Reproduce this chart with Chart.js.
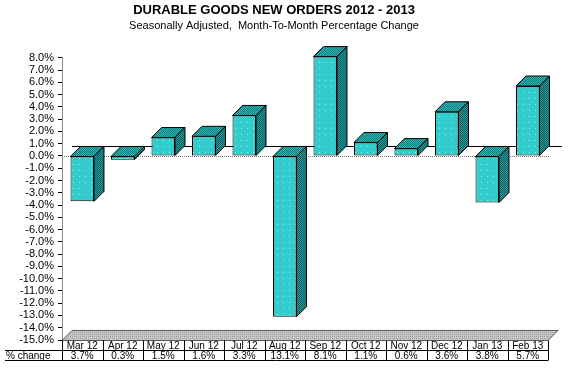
<!DOCTYPE html>
<html>
<head>
<meta charset="utf-8">
<title>Durable Goods New Orders 2012 - 2013</title>
<script src="https://cdn.jsdelivr.net/npm/chart.js@4.4.1/dist/chart.umd.min.js"></script>
<style>
  body { margin: 0; background: #fff; }
  canvas { display: block; }
</style>
</head>
<body>
<canvas id="chart" width="580" height="372"></canvas>
<script>
// Month-to-month % change, seasonally adjusted
const months = ['Mar 12', 'Apr 12', 'May 12', 'Jun 12', 'Jul 12', 'Aug 12', 'Sep 12', 'Oct 12', 'Nov 12', 'Dec 12', 'Jan 13', 'Feb 13'];
const changes = [-3.7, -0.3, 1.5, 1.6, 3.3, -13.1, 8.1, 1.1, 0.6, 3.6, -3.8, 5.7];
const rowLabel = '% change';
const yMin = -15;
const yMax = 8;

const FONT = 'Liberation Sans, Arial, sans-serif';
const DX = 10, DY = 10; // 3d depth offset

// small tiled fills to mimic the dithered look
function makePattern(w, h, base, dots) {
    const c = document.createElement('canvas');
    c.width = w; c.height = h;
    const g = c.getContext('2d');
    g.fillStyle = base;
    g.fillRect(0, 0, w, h);
    dots.forEach(d => {
        g.fillStyle = d[2];
        g.fillRect(d[0], d[1], 1, 1);
    });
    return g.createPattern(c, 'repeat');
}

const ctx = document.getElementById('chart').getContext('2d');
const frontFill = makePattern(6, 6, '#33cccc', [[1, 2, '#8ff0f0']]);
const topFill = makePattern(2, 2, '#33b3b3', [[0, 0, '#0a8080'], [1, 1, '#0a8080']]);
const sideFill = makePattern(2, 2, '#2a9999', [[0, 0, '#035f5f'], [1, 1, '#035f5f']]);
const floorFill = makePattern(2, 2, '#c8c8c8', [[0, 0, '#9a9a9a']]);

function poly(c, pts, fill) {
    c.beginPath();
    c.moveTo(pts[0][0], pts[0][1]);
    for (let i = 1; i < pts.length; i++) c.lineTo(pts[i][0], pts[i][1]);
    c.closePath();
    c.fillStyle = fill;
    c.fill();
    c.strokeStyle = '#000';
    c.lineWidth = 1;
    c.stroke();
}

function line(c, x1, y1, x2, y2) {
    c.beginPath();
    c.moveTo(x1, y1);
    c.lineTo(x2, y2);
    c.stroke();
}

const depthPlugin = {
    id: 'depth',
    beforeDatasetsDraw(chart) {
        const c = chart.ctx;
        const a = chart.chartArea;
        const y0 = Math.round(chart.scales.y.getPixelForValue(0)) + 0.5;
        const fb = Math.round(a.bottom) + 0.5;
        c.save();
        // floor
        c.beginPath();
        c.moveTo(a.left, fb);
        c.lineTo(a.right, fb);
        c.lineTo(a.right + DX, fb - DY);
        c.lineTo(a.left + DX, fb - DY);
        c.closePath();
        c.fillStyle = floorFill;
        c.fill();
        c.strokeStyle = '#555';
        c.lineWidth = 1;
        c.stroke();
        // zero line on back wall
        c.strokeStyle = '#000';
        line(c, a.left + DX, y0 - DY, a.right + DX + 4, y0 - DY);
        // zero line on front
        c.strokeStyle = '#777';
        c.setLineDash([1, 1]);
        line(c, a.left, y0, a.right + 2, y0);
        c.restore();
    },
    afterDatasetsDraw(chart) {
        const c = chart.ctx;
        const meta = chart.getDatasetMeta(0);
        c.save();
        meta.data.forEach(bar => {
            const p = bar.getProps(['x', 'y', 'base', 'width'], true);
            const L = p.x - p.width / 2, R = p.x + p.width / 2;
            const top = Math.min(p.y, p.base), bottom = Math.max(p.y, p.base);
            poly(c, [[L, top], [R, top], [R + DX, top - DY], [L + DX, top - DY]], topFill);
            poly(c, [[R, top], [R + DX, top - DY], [R + DX, bottom - DY], [R, bottom]], sideFill);
        });
        c.restore();
    }
};

// data table under the floor
const tablePlugin = {
    id: 'table',
    afterDraw(chart) {
        const c = chart.ctx;
        const a = chart.chartArea;
        const xs = chart.scales.x;
        const w = (a.right - a.left) / months.length;
        const r0 = Math.round(a.bottom) + 0.5;
        const r1 = r0 + 10, r2 = r0 + 20;
        c.save();
        c.strokeStyle = '#000';
        c.lineWidth = 1;
        line(c, 5, r1, a.right, r1);
        line(c, 5, r2, a.right, r2);
        for (let i = 0; i <= months.length; i++) {
            const xx = Math.round(a.left + i * w) + 0.5;
            line(c, xx, r0, xx, r2);
        }
        c.fillStyle = '#000';
        c.font = '10px ' + FONT;
        c.textBaseline = 'middle';
        c.textAlign = 'left';
        c.fillText(rowLabel, 6, r1 + 5.5);
        c.textAlign = 'center';
        months.forEach((m, i) => {
            const cx = xs.getPixelForValue(i);
            c.fillText(m, cx, r0 + 5.5);
            c.fillText(Math.abs(changes[i]).toFixed(1) + '%', cx, r1 + 5.5);
        });
        c.restore();
    }
};

new Chart(ctx, {
    type: 'bar',
    data: {
        labels: months,
        datasets: [{
            data: changes,
            backgroundColor: frontFill,
            borderColor: '#000',
            borderWidth: 1,
            borderSkipped: false,
            barPercentage: 0.58,
            categoryPercentage: 1,
            clip: false
        }]
    },
    options: {
        responsive: false,
        animation: false,
        layout: { padding: { left: 0, right: 32, top: 0, bottom: 32 } },
        plugins: {
            legend: { display: false },
            tooltip: { enabled: false },
            title: {
                display: true,
                text: 'DURABLE GOODS NEW ORDERS 2012 - 2013',
                color: '#000',
                font: { family: FONT, size: 13, weight: 'bold' },
                padding: { top: 3, bottom: 1 }
            },
            subtitle: {
                display: true,
                text: 'Seasonally Adjusted,  Month-To-Month Percentage Change',
                color: '#000',
                font: { family: FONT, size: 11 },
                padding: { top: 0, bottom: 25 }
            }
        },
        scales: {
            x: { display: false },
            y: {
                min: yMin,
                max: yMax,
                ticks: {
                    stepSize: 1,
                    autoSkip: false,
                    color: '#000',
                    padding: 4,
                    font: { family: FONT, size: 11 },
                    callback: v => v.toFixed(1) + '%'
                },
                grid: { drawOnChartArea: false, drawTicks: true, tickLength: 4, color: '#000' },
                border: { color: '#888', dash: [1, 1] },
                afterFit(s) { s.width = 62; }
            }
        }
    },
    plugins: [depthPlugin, tablePlugin]
});
</script>
</body>
</html>
